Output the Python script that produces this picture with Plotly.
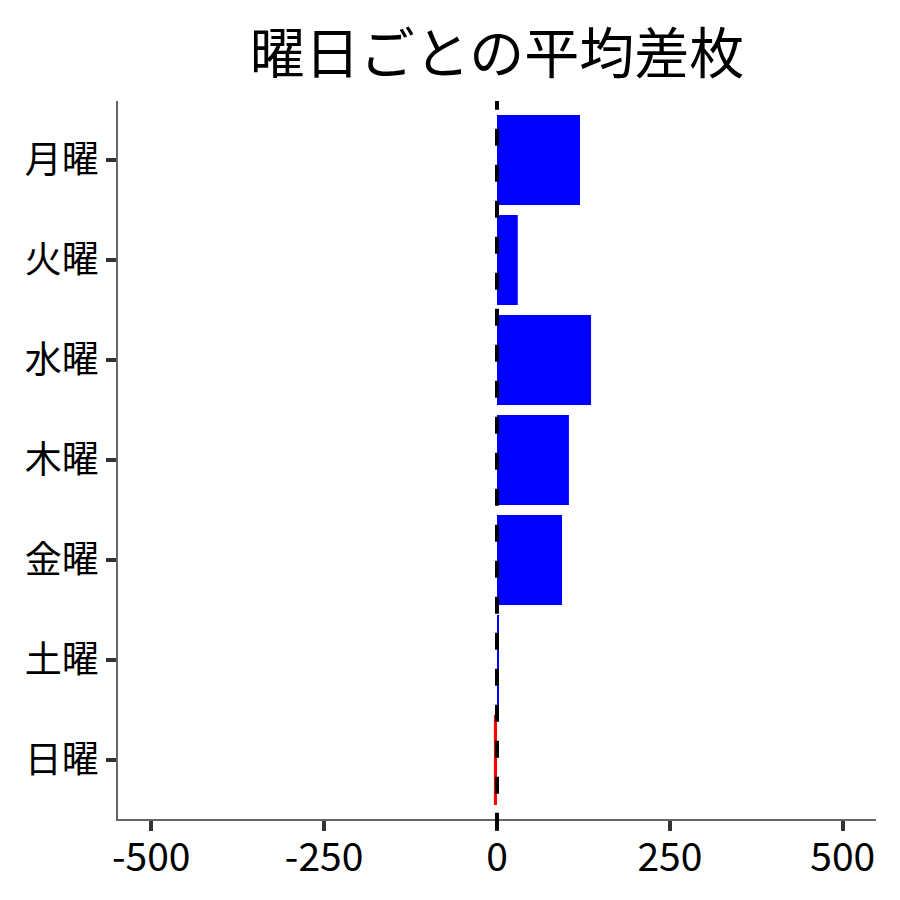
import plotly.graph_objects as go

days = ["月曜", "火曜", "水曜", "木曜", "金曜", "土曜", "日曜"]
avg_diff = [120, 30, 136, 104, 94, 2.5, -4.5]
colors = ["blue" if v >= 0 else "red" for v in avg_diff]
x_ticks = [-500, -250, 0, 250, 500]
title_text = "曜日ごとの平均差枚"

fig = go.Figure()
fig.add_trace(go.Bar(
    y=days, x=avg_diff, orientation="h",
    marker=dict(color=colors, line=dict(width=0)),
    width=0.9,
))
fig.add_shape(type="line", xref="x", yref="paper", x0=0, x1=0, y0=-0.015, y1=1,
              line=dict(color="black", width=4, dash="17px,19px"))

font = "Noto Sans CJK JP, Noto Sans, sans-serif"
fig.update_layout(
    width=900, height=900,
    paper_bgcolor="white", plot_bgcolor="white",
    margin=dict(l=110, r=32, t=93, b=89, autoexpand=False),
    showlegend=False,
    title=dict(text=title_text, xref="paper", x=0.5, xanchor="center", y=0.949, yanchor="middle",
               font=dict(family=font, size=55, color="black")),
    font=dict(family=font, color="black"),
)
fig.update_xaxes(
    range=[-548, 548], tickvals=x_ticks, ticktext=[str(v) for v in x_ticks],
    showgrid=False, zeroline=False,
    showline=True, linecolor="#666666", linewidth=1.5,
    ticks="outside", ticklen=10, tickwidth=3.5, tickcolor="#333333",
    ticklabelstandoff=-7,
    tickfont=dict(family=font, size=39, color="black"),
)
fig.update_yaxes(
    categoryorder="array", categoryarray=days, range=[6.59, -0.59],
    showgrid=False, zeroline=False,
    showline=True, linecolor="#666666", linewidth=1.5,
    ticks="outside", ticklen=10, tickwidth=3.5, tickcolor="#333333",
    ticklabelstandoff=0,
    tickfont=dict(family=font, size=37, color="black"),
)
fig.write_html("out.html")
